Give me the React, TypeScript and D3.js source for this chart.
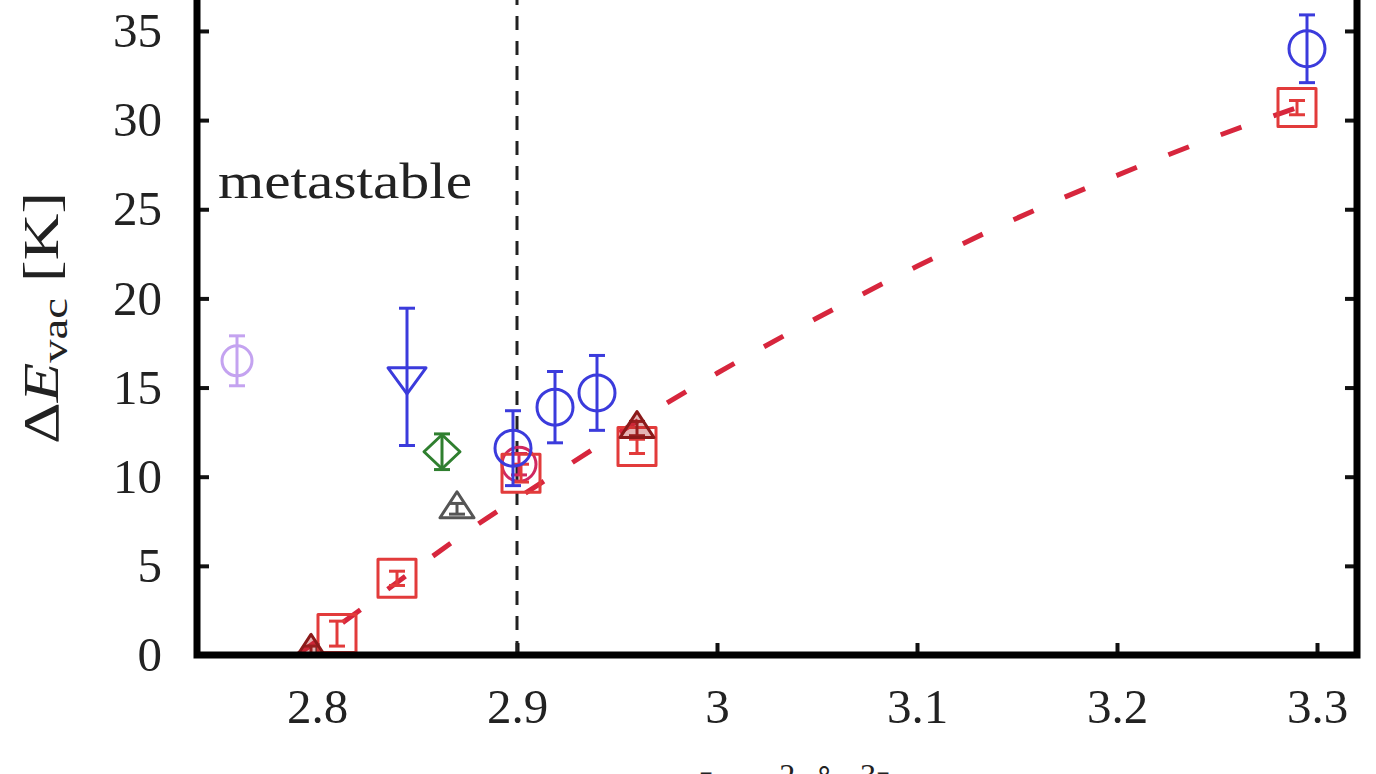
import * as d3 from "d3";
import React, { useEffect, useRef } from "react";

// axis ticks
const xTicks = [2.8, 2.9, 3, 3.1, 3.2, 3.3];
const yTicks = [0, 5, 10, 15, 20, 25, 30, 35];

// dashed fit curve
const fitX = [2.79, 2.82, 2.85, 2.88, 2.91, 2.95, 3.0, 3.05, 3.1, 3.15, 3.2, 3.25, 3.29];
const fitY = [0.0, 2.4, 4.9, 7.3, 9.5, 12.4, 15.8, 18.9, 21.8, 24.5, 26.9, 29.1, 30.7];

// red squares
const squareX = [2.81, 2.84, 2.902, 2.96, 3.29];
const squareY = [1.2, 4.3, 10.2, 11.7, 30.7];
const squareErr = [0.7, 0.4, 0.5, 0.4, 0.4];

// blue circles
const circleX = [2.898, 2.919, 2.94, 3.295];
const circleY = [11.6, 13.9, 14.7, 34.0];
const circleErr = [2.1, 2.0, 2.1, 1.9];

// crimson circle hidden behind the 2.9 cluster
const crimsonX = [2.901];
const crimsonY = [10.7];
const crimsonErr = [0.6];

// blue down-triangle
const downTriX = [2.845];
const downTriY = [15.6];
const downTriErr = [3.85];

// green diamond
const diamondX = [2.8625];
const diamondY = [11.4];
const diamondErr = [1.0];

// grey up-triangle
const grayTriX = [2.87];
const grayTriY = [8.2];
const grayTriErr = [0.3];

// pale purple circle
const purpleX = [2.76];
const purpleY = [16.5];
const purpleErr = [1.4];

// dark red up-triangles
const darkTriX = [2.797, 2.96];
const darkTriY = [0.2, 12.7];
const darkTriErr = [0.3, 0.4];

const FONT = "'Liberation Serif', 'DejaVu Serif', serif";

const App = () => {
  const ref = useRef<SVGSVGElement | null>(null);

  useEffect(() => {
    const svg = d3.select(ref.current);
    svg.selectAll("*").remove();

    const left = 197;
    const right = 1357;
    const bottom = 655;
    const pxPerUnit = 17.83;
    const yMax = 38;

    const xScale = d3.scaleLinear().domain([2.74, 3.32]).range([left, right]);
    const yScale = d3.scaleLinear().domain([0, yMax]).range([bottom, bottom - yMax * pxPerUnit]);
    const top = yScale(yMax);

    svg.append("rect").attr("width", 1376).attr("height", 774).attr("fill", "white");

    // clip for plot content
    svg.append("defs").append("clipPath").attr("id", "plot-clip")
      .append("rect")
      .attr("x", left).attr("y", top)
      .attr("width", right - left).attr("height", bottom - top);

    // Axes (inward ticks)
    const xAxis = d3.axisBottom(xScale).tickValues(xTicks).tickFormat((d) => String(d)).tickSize(-12).tickPadding(33);
    const yAxis = d3.axisLeft(yScale).tickValues(yTicks).tickFormat((d) => String(d)).tickSize(-12).tickPadding(35);
    const yAxisR = d3.axisRight(yScale).tickValues(yTicks).tickFormat(() => "").tickSize(-12);

    const gx = svg.append("g").attr("transform", `translate(0, ${bottom})`).call(xAxis);
    const gy = svg.append("g").attr("transform", `translate(${left}, 0)`).call(yAxis);
    const gyr = svg.append("g").attr("transform", `translate(${right}, 0)`).call(yAxisR);

    [gx, gy, gyr].forEach((g) => {
      g.select(".domain").remove();
      g.selectAll(".tick line").attr("stroke", "#111").attr("stroke-width", 4);
      g.selectAll(".tick text")
        .attr("fill", "#222")
        .style("font-family", FONT)
        .style("font-size", "49px");
    });

    // vertical dashed line at 2.9
    svg.append("line")
      .attr("x1", xScale(2.9)).attr("x2", xScale(2.9))
      .attr("y1", bottom).attr("y2", top)
      .attr("stroke", "#222")
      .attr("stroke-width", 3)
      .attr("stroke-dasharray", "14,11");

    const plot = svg.append("g").attr("clip-path", "url(#plot-clip)");

    // fit curve
    const line = d3.line<number>()
      .x((d, i) => xScale(fitX[i]))
      .y((d) => yScale(d))
      .curve(d3.curveMonotoneX);

    plot.append("path")
      .datum(fitY)
      .attr("d", line)
      .attr("fill", "none")
      .attr("stroke", "#d7263d")
      .attr("stroke-width", 5)
      .attr("stroke-dasharray", "22,34");

    const shapePath = (shape: string, cx: number, cy: number) => {
      if (shape === "square") {
        const h = 19;
        return `M${cx - h},${cy - h}H${cx + h}V${cy + h}H${cx - h}Z`;
      }
      if (shape === "down") {
        return `M${cx - 19},${cy - 9}L${cx + 19},${cy - 9}L${cx},${cy + 17}Z`;
      }
      if (shape === "up") {
        return `M${cx - 17},${cy + 9}L${cx + 17},${cy + 9}L${cx},${cy - 17}Z`;
      }
      if (shape === "diamond") {
        return `M${cx},${cy - 17}L${cx + 18},${cy}L${cx},${cy + 17}L${cx - 18},${cy}Z`;
      }
      return "";
    };

    const drawSeries = (
      xs: number[], ys: number[], errs: number[],
      shape: string, color: string, r = 18, fill = "none"
    ) => {
      const g = plot.append("g");
      xs.forEach((x, i) => {
        const cx = xScale(x);
        const cy = yScale(ys[i]);
        const y1 = yScale(ys[i] + errs[i]);
        const y2 = yScale(ys[i] - errs[i]);
        g.append("line").attr("x1", cx).attr("x2", cx).attr("y1", y1).attr("y2", y2)
          .attr("stroke", color).attr("stroke-width", 3);
        [y1, y2].forEach((yy) => {
          g.append("line").attr("x1", cx - 8).attr("x2", cx + 8).attr("y1", yy).attr("y2", yy)
            .attr("stroke", color).attr("stroke-width", 3);
        });
        if (shape === "circle") {
          g.append("circle").attr("cx", cx).attr("cy", cy).attr("r", r)
            .attr("fill", fill).attr("stroke", color).attr("stroke-width", 3);
        } else {
          g.append("path").attr("d", shapePath(shape, cx, cy))
            .attr("fill", fill).attr("stroke", color).attr("stroke-width", 3)
            .attr("stroke-linejoin", "round");
        }
      });
    };

    drawSeries(purpleX, purpleY, purpleErr, "circle", "#c4a3f0", 15);
    drawSeries(grayTriX, grayTriY, grayTriErr, "up", "#555555");
    drawSeries(diamondX, diamondY, diamondErr, "diamond", "#2f7f2f");
    drawSeries(downTriX, downTriY, downTriErr, "down", "#3b3bdc");
    drawSeries(crimsonX, crimsonY, crimsonErr, "circle", "#d02860", 17);
    drawSeries(squareX, squareY, squareErr, "square", "#e23b3b");
    drawSeries(darkTriX, darkTriY, darkTriErr, "up", "#8b1a1a", 18, "rgba(180,40,40,0.35)");
    drawSeries(circleX, circleY, circleErr, "circle", "#3b3bdc", 18);

    // frame
    svg.append("rect")
      .attr("x", left).attr("y", top)
      .attr("width", right - left).attr("height", bottom - top)
      .attr("fill", "none")
      .attr("stroke", "#000")
      .attr("stroke-width", 7);

    // annotation
    svg.append("text")
      .attr("x", 218).attr("y", 198)
      .attr("textLength", 254)
      .attr("lengthAdjust", "spacingAndGlyphs")
      .style("font-family", FONT)
      .style("font-size", "50px")
      .attr("fill", "#222")
      .text("metastable");

    // y label
    const yl = svg.append("text")
      .attr("transform", "translate(58, 318) rotate(-90)")
      .attr("text-anchor", "middle")
      .attr("textLength", 252)
      .attr("lengthAdjust", "spacingAndGlyphs")
      .style("font-family", FONT)
      .style("font-size", "50px")
      .attr("fill", "#222");
    yl.append("tspan").text("Δ");
    yl.append("tspan").style("font-style", "italic").text("E");
    yl.append("tspan").attr("dy", 9).style("font-size", "36px").text("vac");
    yl.append("tspan").attr("dy", -9).text(" [K]");

    // x label (mostly cut off at the bottom, as in the source)
    const xl = svg.append("text")
      .attr("x", (left + right) / 2).attr("y", 806)
      .attr("text-anchor", "middle")
      .style("font-family", FONT)
      .style("font-size", "48px")
      .attr("fill", "#222");
    xl.append("tspan").style("font-style", "italic").text("ρ");
    xl.append("tspan").text(" [10");
    xl.append("tspan").attr("dy", -20).style("font-size", "32px").text("−2");
    xl.append("tspan").attr("dy", 20).text(" Å");
    xl.append("tspan").attr("dy", -20).style("font-size", "32px").text("−3");
    xl.append("tspan").attr("dy", 20).text("]");
  }, []);

  return (
    <svg
      ref={ref}
      width={1376}
      height={774}
      style={{ position: "absolute", left: 0, top: 0, display: "block" }}
    />
  );
};

export default App;
